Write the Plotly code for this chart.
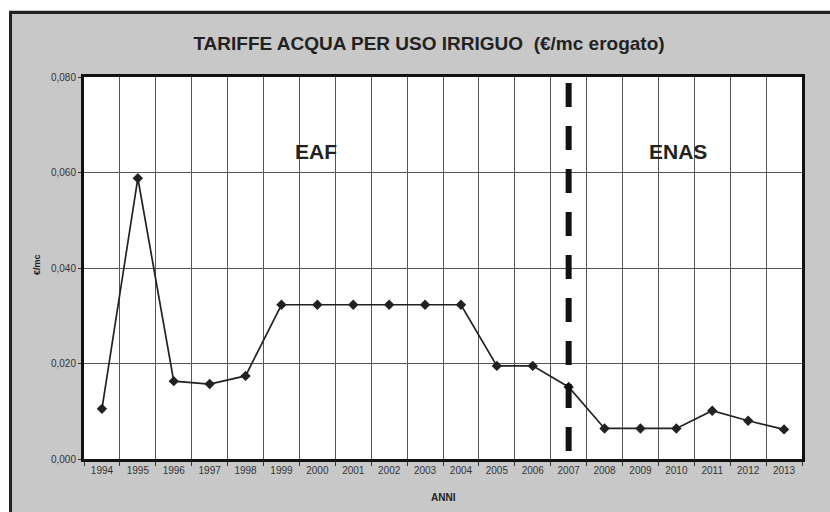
import plotly.graph_objects as go

years = [str(y) for y in range(1994, 2014)]
tariffe = [0.0105, 0.0588, 0.0163, 0.0157, 0.0174, 0.0323, 0.0323, 0.0323, 0.0323,
           0.0323, 0.0323, 0.0195, 0.0195, 0.0151, 0.0064, 0.0064, 0.0064, 0.0101,
           0.0080, 0.0062]
y_ticks = [0.0, 0.02, 0.04, 0.06, 0.08]
y_range = [0.0, 0.08]
divider_year = "2007"
periods = ["EAF", "ENAS"]

W, H = 830, 512
L, R, T, B = 84, 28, 77, 53
pw, ph = W - L - R, H - T - B

def px_x(x):
    return (x - L) / pw

def px_y(y):
    return (H - B - y) / ph

fig = go.Figure()
fig.add_trace(go.Scatter(
    x=years, y=tariffe, mode="lines+markers",
    line=dict(color="#222222", width=1.7),
    marker=dict(symbol="diamond", size=8, color="#222222"),
    showlegend=False, cliponaxis=False,
))
fig.add_trace(go.Scatter(
    x=[divider_year, divider_year], y=y_range[::-1], mode="lines",
    line=dict(color="#111111", width=6, dash="0px,6px,24px,13px"),
    showlegend=False, hoverinfo="skip",
))

font = "Liberation Sans, Arial, sans-serif"

fig.update_layout(
    width=W, height=H,
    margin=dict(l=L, r=R, t=T, b=B),
    paper_bgcolor="#c8c8c8",
    plot_bgcolor="#ffffff",
    separators=",.",
    font=dict(family=font, size=10, color="#333333"),
    title=dict(text="TARIFFE ACQUA PER USO IRRIGUO \u00a0(€/mc erogato)",
               x=429 / W, xanchor="center", y=1 - 43 / H, yanchor="middle",
               font=dict(family=font, size=19, color="#222222", weight="bold")),
    xaxis=dict(type="category", range=[-0.5, len(years) - 0.5],
               showgrid=True, gridcolor="#555555", gridwidth=1,
               tickson="boundaries", ticks="outside", ticklen=4, tickcolor="#333333",
               showline=True, linecolor="#111111", linewidth=3, mirror=True,
               tickfont=dict(size=10, color="#333333"), fixedrange=True),
    yaxis=dict(range=y_range, tickvals=y_ticks, tickformat=".3f",
               showgrid=True, gridcolor="#555555", gridwidth=1, zeroline=False,
               ticks="outside", ticklen=3, tickcolor="#333333",
               showline=True, linecolor="#111111", linewidth=3, mirror=True,
               tickfont=dict(size=10, color="#333333"), fixedrange=True),
    shapes=[
        dict(type="rect", xref="paper", yref="paper", x0=px_x(-5), x1=px_x(W + 5),
             y0=px_y(-5), y1=px_y(10), fillcolor="#ffffff", line=dict(width=0), layer="above"),
        dict(type="rect", xref="paper", yref="paper", x0=px_x(-5), x1=px_x(9),
             y0=px_y(-5), y1=px_y(H + 5), fillcolor="#ffffff", line=dict(width=0), layer="above"),
        dict(type="line", xref="paper", yref="paper", x0=px_x(10.5), x1=px_x(W + 5),
             y0=px_y(12.5), y1=px_y(12.5), line=dict(color="#222222", width=3), layer="above"),
        dict(type="line", xref="paper", yref="paper", x0=px_x(10.5), x1=px_x(10.5),
             y0=px_y(11), y1=px_y(H + 5), line=dict(color="#222222", width=3), layer="above"),
    ],
    annotations=[
        dict(text=periods[0], xref="paper", yref="paper", x=px_x(316), y=px_y(151),
             xanchor="center", yanchor="middle",
             showarrow=False, font=dict(family=font, size=21, color="#222222", weight="bold")),
        dict(text=periods[1], xref="paper", yref="paper", x=px_x(678), y=px_y(151),
             xanchor="center", yanchor="middle",
             showarrow=False, font=dict(family=font, size=21, color="#222222", weight="bold")),
        dict(text="ANNI", xref="paper", yref="paper", x=px_x(443), y=px_y(497),
             xanchor="center", yanchor="middle",
             showarrow=False, font=dict(family=font, size=10, color="#222222", weight="bold")),
        dict(text="€/mc", xref="paper", yref="paper", x=px_x(37), y=px_y(265),
             xanchor="center", yanchor="middle",
             textangle=-90, showarrow=False,
             font=dict(family=font, size=9, color="#222222", weight="bold")),
    ],
)

fig.write_html("out.html", config={"displayModeBar": False},
               post_script="document.body.style.margin='0';document.body.style.overflow='hidden';")
